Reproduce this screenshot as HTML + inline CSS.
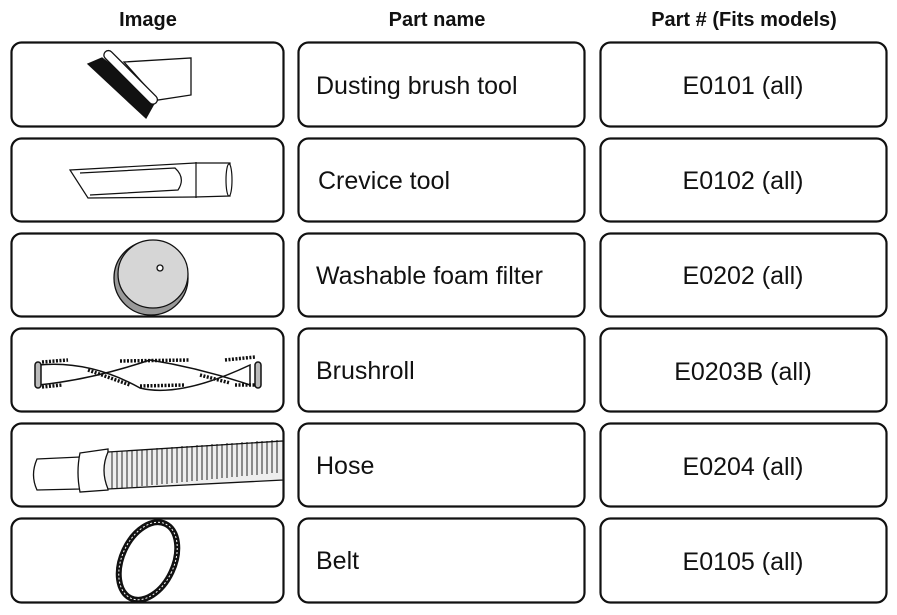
<!DOCTYPE html>
<html><head><meta charset="utf-8"><style>
html,body{margin:0;padding:0;background:#fff;}
body{width:897px;height:610px;overflow:hidden;font-family:"Liberation Sans",Arial,sans-serif;}
</style></head><body>
<svg width="897" height="610" viewBox="0 0 897 610" xmlns="http://www.w3.org/2000/svg" font-family="Liberation Sans, Arial, sans-serif">
<g font-weight="bold" font-size="20" text-anchor="middle" fill="#111">
<text x="148" y="26">Image</text>
<text x="437" y="26">Part name</text>
<text x="744" y="26">Part # (Fits models)</text>
</g>
<g fill="none" stroke="#111" stroke-width="2.2">
<rect x="11.5" y="42.5" width="272" height="84" rx="10"/>
<rect x="298.5" y="42.5" width="286" height="84" rx="10"/>
<rect x="600.5" y="42.5" width="286" height="84" rx="10"/>
<rect x="11.5" y="138.5" width="272" height="83" rx="10"/>
<rect x="298.5" y="138.5" width="286" height="83" rx="10"/>
<rect x="600.5" y="138.5" width="286" height="83" rx="10"/>
<rect x="11.5" y="233.5" width="272" height="83" rx="10"/>
<rect x="298.5" y="233.5" width="286" height="83" rx="10"/>
<rect x="600.5" y="233.5" width="286" height="83" rx="10"/>
<rect x="11.5" y="328.5" width="272" height="83" rx="10"/>
<rect x="298.5" y="328.5" width="286" height="83" rx="10"/>
<rect x="600.5" y="328.5" width="286" height="83" rx="10"/>
<rect x="11.5" y="423.5" width="272" height="83" rx="10"/>
<rect x="298.5" y="423.5" width="286" height="83" rx="10"/>
<rect x="600.5" y="423.5" width="286" height="83" rx="10"/>
<rect x="11.5" y="518.5" width="272" height="84" rx="10"/>
<rect x="298.5" y="518.5" width="286" height="84" rx="10"/>
<rect x="600.5" y="518.5" width="286" height="84" rx="10"/>
</g>
<g font-size="25" fill="#111">
<text x="316" y="94">Dusting brush tool</text>
<text x="318" y="189">Crevice tool</text>
<text x="316" y="284">Washable foam filter</text>
<text x="316" y="379">Brushroll</text>
<text x="316" y="474">Hose</text>
<text x="316" y="569">Belt</text>
</g>
<g font-size="25" fill="#111" text-anchor="middle">
<text x="743" y="94">E0101 (all)</text>
<text x="743" y="189">E0102 (all)</text>
<text x="743" y="284">E0202 (all)</text>
<text x="743" y="380">E0203B (all)</text>
<text x="743" y="475">E0204 (all)</text>
<text x="743" y="570">E0105 (all)</text>
</g>
<!-- dusting brush -->
<g stroke="#111" stroke-width="1.3" fill="#fff">
<polygon points="124,62 191,58 191,95 158,100"/>
<polygon points="88,64 102,58 156,100 146,118" fill="#111"/>
<rect x="95" y="73" width="72" height="9" rx="4.5" transform="rotate(45 131 77)"/>
</g>
<!-- crevice tool -->
<g stroke="#111" stroke-width="1.2" fill="#fff">
<path d="M70,170 L195,163 L230,163 L230,196 L195,197 L88,198 Z"/>
<line x1="196" y1="162" x2="196" y2="198"/>
<ellipse cx="229" cy="180" rx="3" ry="16"/>
<path d="M80,173 L175,168 Q186,178 178,190 L90,195" fill="none"/>
</g>
<!-- filter -->
<g stroke="#111" stroke-width="1.3">
<ellipse cx="151" cy="278" rx="37" ry="37" fill="#999"/>
<ellipse cx="153" cy="274" rx="35" ry="34" fill="#d6d6d6"/>
<circle cx="160" cy="268" r="3" fill="#fff"/>
</g>
<!-- brushroll -->
<g stroke="#111" stroke-width="1.5" fill="#fff">
<path d="M38,365 Q90,360 140,388 Q180,398 250,365 L250,385 Q200,368 150,360 Q90,380 38,385 Z"/>
<rect x="35" y="362" width="6" height="26" rx="3" fill="#bbb"/>
<rect x="255" y="362" width="6" height="26" rx="3" fill="#bbb"/>
<path d="M42,362 L68,360 M42,387 L62,385 M120,361 L190,360 M140,386 L185,385 M225,360 L255,357 M235,385 L255,385 M88,370 L130,385 M200,375 L230,383" stroke-width="3.5" stroke-dasharray="2,1.5"/>
</g>
<!-- hose -->
<g stroke="#111" stroke-width="1.3" fill="#fff">
<path d="M37,459 L80,457 L80,489 L37,490 Q30,475 37,459 Z"/>
<path d="M80,453 L108,449 L108,490 L80,492 Q76,472 80,453 Z"/>
<path d="M108,452 L283,441 L283,480 L108,489 Q100,470 108,452 Z" fill="#eee"/>
</g>
<g stroke="#111" stroke-width="0.9">
<path d="M112,452v37M117,452v37M122,451v37M127,451v37M132,450v37M137,450v37M142,450v36M147,449v37M152,449v36M157,448v37M162,448v36M167,448v36M172,447v36M177,447v36M182,446v36M187,446v36M192,446v35M197,445v36M202,445v35M207,445v35M212,444v35M217,444v35M222,444v34M227,443v35M232,443v34M237,443v34M242,442v34M247,442v34M252,442v33M257,441v34M262,441v33M267,441v33M272,440v33M277,440v33"/>
</g>
<!-- belt -->
<g fill="none" stroke="#111">
<ellipse cx="148" cy="561" rx="26" ry="41" transform="rotate(25 148 561)" stroke-width="6"/>
<ellipse cx="148" cy="561" rx="26" ry="41" transform="rotate(25 148 561)" stroke-width="1" stroke="#fff" stroke-dasharray="2,2"/>
</g>
</svg>
</body></html>
